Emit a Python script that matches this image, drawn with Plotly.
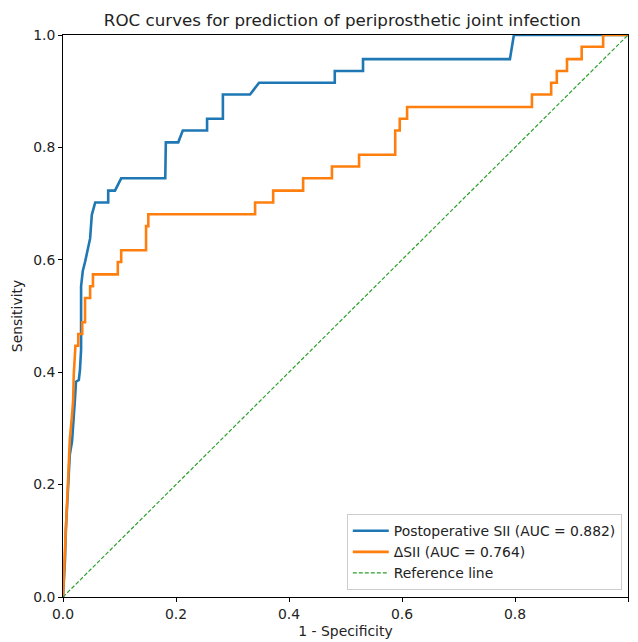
import plotly.graph_objects as go

# Postoperative SII ROC curve
blue_fpr = [0.0, 0.002, 0.0035, 0.005, 0.009, 0.012, 0.016, 0.018, 0.021, 0.023, 0.028, 0.030, 0.032, 0.032,
            0.035, 0.039, 0.044, 0.048, 0.051, 0.057, 0.080, 0.080, 0.092, 0.103, 0.181, 0.181, 0.182,
            0.204, 0.212, 0.255, 0.255, 0.283, 0.283, 0.331, 0.347, 0.481, 0.481, 0.531, 0.531, 0.791,
            0.798, 1.0]
blue_tpr = [0.0, 0.030, 0.066, 0.119, 0.19, 0.253, 0.277, 0.315, 0.35, 0.383, 0.386, 0.404, 0.44, 0.553,
            0.58, 0.596, 0.617, 0.638, 0.68, 0.702, 0.702, 0.723, 0.723, 0.745, 0.745, 0.787, 0.809,
            0.809, 0.830, 0.830, 0.851, 0.851, 0.894, 0.894, 0.915, 0.915, 0.936, 0.936, 0.957, 0.957,
            1.0, 1.0]

# Delta SII ROC curve
orange_fpr = [0.0, 0.002, 0.005, 0.009, 0.012, 0.016, 0.018, 0.019, 0.022, 0.027, 0.027, 0.034, 0.034,
              0.039, 0.039, 0.048, 0.048, 0.053, 0.053, 0.097, 0.097, 0.103, 0.103, 0.147, 0.147, 0.151,
              0.151, 0.340, 0.340, 0.372, 0.372, 0.425, 0.425, 0.476, 0.476, 0.524, 0.524, 0.588, 0.588,
              0.596, 0.596, 0.609, 0.609, 0.830, 0.830, 0.864, 0.864, 0.874, 0.874, 0.892, 0.892, 0.918,
              0.918, 0.956, 0.956, 1.0]
orange_tpr = [0.0, 0.039, 0.119, 0.208, 0.279, 0.324, 0.35, 0.395, 0.447, 0.447, 0.468, 0.468, 0.489,
              0.489, 0.532, 0.532, 0.553, 0.553, 0.574, 0.574, 0.596, 0.596, 0.617, 0.617, 0.660, 0.660,
              0.681, 0.681, 0.702, 0.702, 0.723, 0.723, 0.745, 0.745, 0.766, 0.766, 0.787, 0.787, 0.830,
              0.830, 0.851, 0.851, 0.872, 0.872, 0.894, 0.894, 0.915, 0.915, 0.936, 0.936, 0.957, 0.957,
              0.979, 0.979, 1.0, 1.0]

ref_x = [0.0, 1.0]
ref_y = [0.0, 1.0]

tick_vals = [0.0, 0.2, 0.4, 0.6, 0.8, 1.0]
tick_text = ["0.0", "0.2", "0.4", "0.6", "0.8", "1.0"]

font = "DejaVu Sans"
fs = 13.9

fig = go.Figure()
fig.add_trace(go.Scatter(x=blue_fpr, y=blue_tpr, mode="lines",
                         line=dict(color="#1f77b4", width=2.6),
                         name="Postoperative SII (AUC = 0.882)"))
fig.add_trace(go.Scatter(x=orange_fpr, y=orange_tpr, mode="lines",
                         line=dict(color="#ff7f0e", width=2.6),
                         name="ΔSII (AUC = 0.764)"))
fig.add_trace(go.Scatter(x=ref_x, y=ref_y, mode="lines",
                         line=dict(color="#2ca02c", width=1.2, dash="4px,2px"),
                         name="Reference line"))

axis_common = dict(range=[0, 1], tickvals=tick_vals, ticktext=tick_text,
                   ticks="outside", ticklen=4, tickwidth=1, tickcolor="black",
                   showline=True, linecolor="black", linewidth=1, mirror=True,
                   showgrid=False, zeroline=False, automargin=False,
                   tickfont=dict(family=font, size=fs, color="#222"))

fig.update_layout(
    width=638, height=642,
    margin=dict(l=63, r=10, t=35, b=45, autoexpand=False),
    paper_bgcolor="white", plot_bgcolor="white",
    font=dict(family=font, size=fs, color="#222"),
    title=dict(text="ROC curves for prediction of periprosthetic joint infection",
               x=0.5365, xanchor="center", y=1 - 20 / 642, yanchor="middle",
               yref="container", automargin=False,
               font=dict(family=font, size=16.7, color="#222")),
    xaxis=dict(**axis_common, title=dict(text="1 - Specificity", standoff=5,
                                         font=dict(family=font, size=fs))),
    yaxis=dict(**axis_common, title=dict(text="Sensitivity", standoff=7,
                                         font=dict(family=font, size=fs))),
    legend=dict(x=0.989, y=0.012, xanchor="right", yanchor="bottom",
                bgcolor="rgba(255,255,255,0.8)", bordercolor="#cccccc", borderwidth=1,
                font=dict(family=font, size=fs, color="#222"),
                itemwidth=36, tracegroupgap=0),
    showlegend=True,
)

fig.write_html("out.html", config={"displayModeBar": False},
               post_script="document.body.style.margin='0';document.body.style.overflow='hidden';")
